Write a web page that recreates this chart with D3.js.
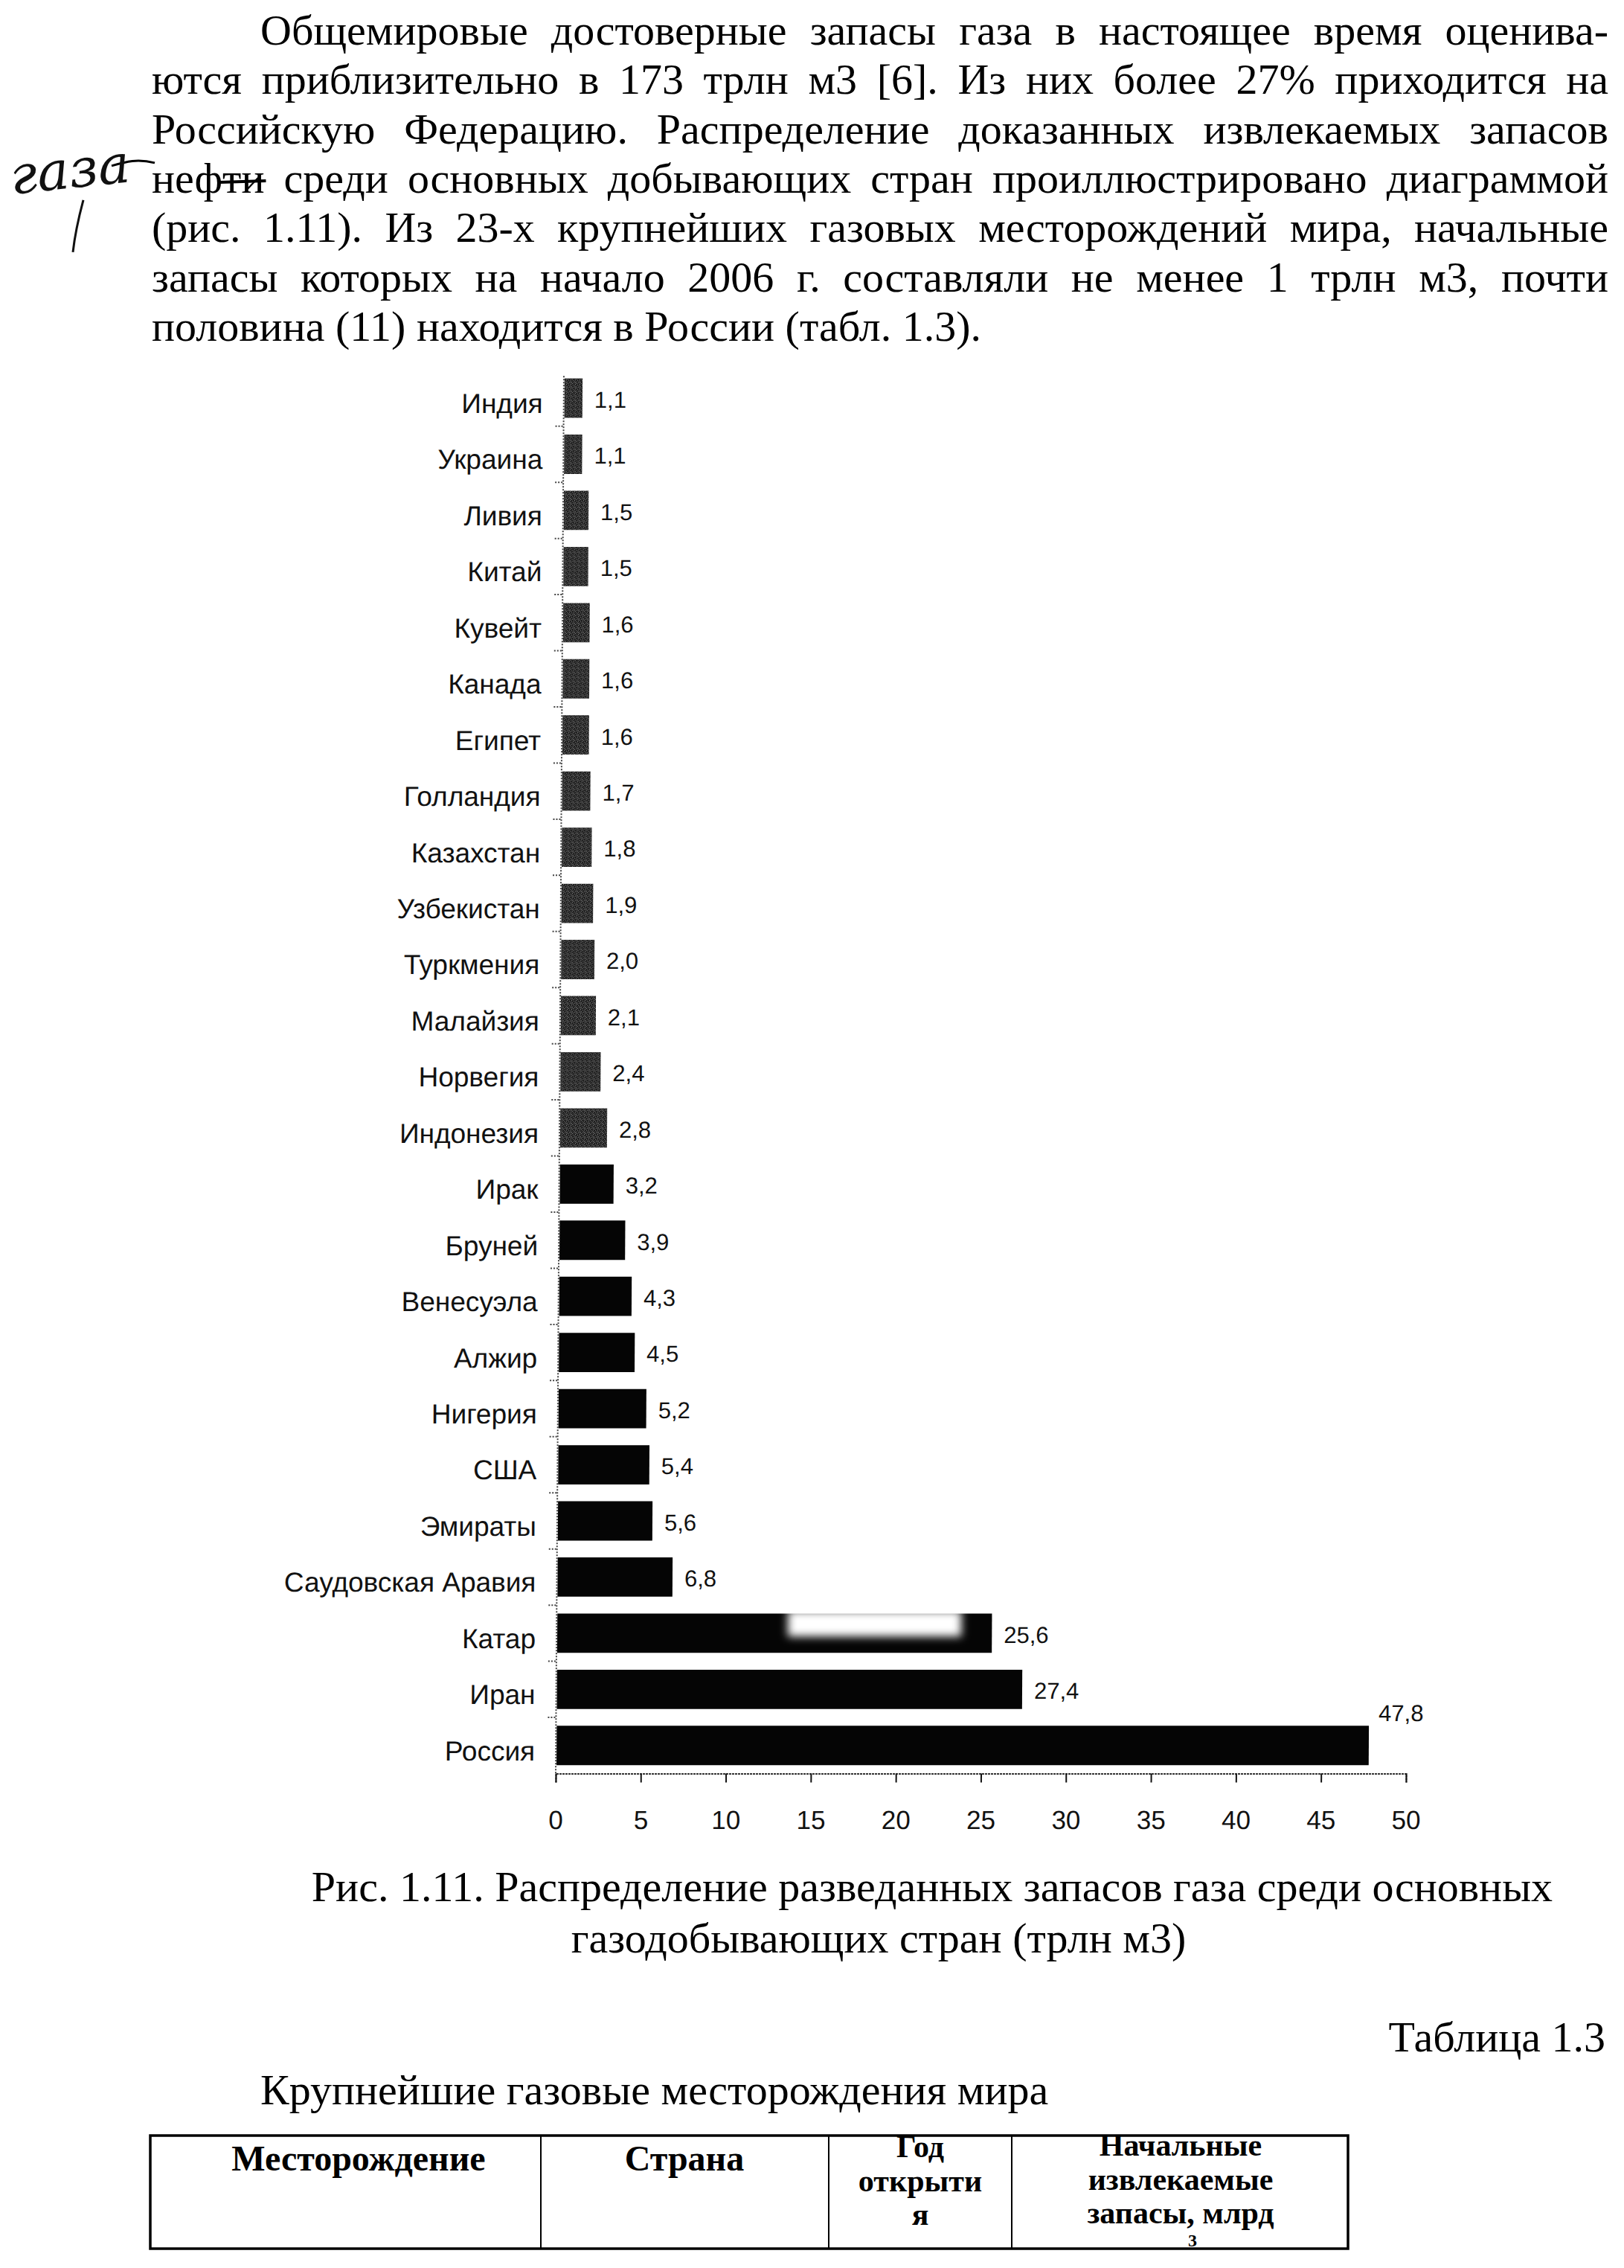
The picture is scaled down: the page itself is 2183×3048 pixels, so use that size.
<!DOCTYPE html>
<html><head><meta charset="utf-8">
<script src="https://cdn.jsdelivr.net/npm/d3@7"></script>
<style>body{margin:0;background:#fff}svg{display:block}</style>
</head><body>
<svg id="page" width="2183" height="3048" xmlns="http://www.w3.org/2000/svg"></svg>
<script>
// ---------- DATA ----------
const countries = ["Индия","Украина","Ливия","Китай","Кувейт","Канада","Египет","Голландия","Казахстан","Узбекистан","Туркмения","Малайзия","Норвегия","Индонезия","Ирак","Бруней","Венесуэла","Алжир","Нигерия","США","Эмираты","Саудовская Аравия","Катар","Иран","Россия"];
const reserves = [1.1,1.1,1.5,1.5,1.6,1.6,1.6,1.7,1.8,1.9,2.0,2.1,2.4,2.8,3.2,3.9,4.3,4.5,5.2,5.4,5.6,6.8,25.6,27.4,47.8];
const xTicks = [0,5,10,15,20,25,30,35,40,45,50];
const xDomain = [0,50];

const paragraphLines = [
  "Общемировые достоверные запасы газа в настоящее время оценива-",
  "ются приблизительно в 173 трлн м3 [6]. Из них более 27% приходится на",
  "Российскую Федерацию. Распределение доказанных извлекаемых запасов",
  "нефти среди основных добывающих стран проиллюстрировано диаграммой",
  "(рис. 1.11). Из 23-х крупнейших газовых месторождений мира, начальные",
  "запасы которых на начало 2006 г. составляли не менее 1 трлн м3, почти",
  "половина (11) находится в России (табл. 1.3)."
];
const handNote = "газа";
const captionLines = [
  "Рис. 1.11. Распределение разведанных запасов газа среди основных",
  "газодобывающих стран (трлн м3)"
];
const tableNumber = "Таблица 1.3";
const tableTitle = "Крупнейшие газовые месторождения мира";
const tableHeaders = [
  ["Месторождение"],
  ["Страна"],
  ["Год","открыти","я"],
  ["Начальные","извлекаемые","запасы, млрд"]
];
const unitSup = "3";

// ---------- SETUP ----------
const svg = d3.select("#page");
svg.append("rect").attr("width",2183).attr("height",3048).attr("fill","#fff");
const serif = "'Liberation Serif','Times New Roman',serif";
const sans = "'Liberation Sans',Arial,sans-serif";

const defs = svg.append("defs");
const pat = defs.append("pattern").attr("id","stip").attr("width",6).attr("height",6).attr("patternUnits","userSpaceOnUse");
pat.append("rect").attr("width",6).attr("height",6).attr("fill","#1e1e1e");
[[0,0],[3,1],[1,3],[4,4],[2,5],[5,2],[0,4]].forEach(([a,b])=>pat.append("rect").attr("x",a).attr("y",b).attr("width",1).attr("height",1).attr("fill","#909090"));
defs.append("filter").attr("id","soft").attr("x","-20%").attr("y","-50%").attr("width","140%").attr("height","200%")
  .append("feGaussianBlur").attr("stdDeviation",6);

// ---------- PARAGRAPH (justified) ----------
const textG = svg.append("g").attr("font-family",serif).attr("fill","#000");
const fsP = 58, left = 204, right = 2162, indent = 146, base0 = 60, lh = 66.3;
const measurer = textG.append("text").attr("font-size",fsP).attr("x",-9999).attr("y",-9999);
function wlen(t, fs){ measurer.attr("font-size",fs).text(t); return measurer.node().getComputedTextLength(); }
const wordPos = {};
paragraphLines.forEach((line,i)=>{
  const words = line.split(" ");
  const x0 = left + (i===0?indent:0);
  const y = base0 + i*lh;
  const widths = words.map(w=>wlen(w,fsP));
  const sum = d3.sum(widths);
  const last = i===paragraphLines.length-1;
  const gap = last ? fsP*0.25 : (right - x0 - sum)/(words.length-1);
  let x = x0;
  wordPos[i] = [];
  words.forEach((w,j)=>{
    textG.append("text").attr("x",x).attr("y",y).attr("font-size",fsP).text(w);
    wordPos[i].push({w,x,width:widths[j]});
    x += widths[j] + gap;
  });
});
// correction: "нефти" crossed out, handwritten note in margin
const nf = wordPos[3][0];
const nfStart = nf.x + wlen("неф",fsP);
const yL4 = base0 + 3*lh;
textG.append("line").attr("x1",nfStart-4).attr("x2",nf.x+nf.width+2).attr("y1",yL4-14).attr("y2",yL4-16).attr("stroke","#000").attr("stroke-width",4);
textG.append("path").attr("d",`M150,${yL4-36} C170,${yL4-42} 185,${yL4-46} ${nf.x+4},${yL4-40}`).attr("fill","none").attr("stroke","#000").attr("stroke-width",3);
textG.append("text").attr("transform",`translate(16,${yL4+2}) rotate(-6)`).attr("font-size",72).attr("font-style","italic").attr("font-family","'DejaVu Serif',serif").attr("fill","#111").text(handNote);
textG.append("path").attr("d",`M112,${yL4+10} C104,${yL4+40} 100,${yL4+62} 98,${yL4+80}`).attr("fill","none").attr("stroke","#111").attr("stroke-width",3);
measurer.remove();

// ---------- CHART ----------
const axisY = 2383.5;
const x = d3.scaleLinear().domain(xDomain).range([747, 1890]);
const y = d3.scaleBand().domain(countries).range([497.3, axisY]).paddingInner(0.3).paddingOuter(0.15);
const skew = -Math.atan(11/1886)*180/Math.PI;
const chart = svg.append("g").attr("transform",`translate(0,${axisY}) skewX(${skew}) translate(0,${-axisY})`);

const data = countries.map((c,i)=>({c, v:reserves[i], i}));
const fmt = v => d3.format(".1f")(v).replace(".",",");
const lastIdx = countries.length-1;

// bars
chart.append("g").selectAll("rect").data(data).join("rect")
  .attr("x", x(0)+1)
  .attr("y", d=>y(d.c))
  .attr("width", d=>x(d.v)-x(0)-1)
  .attr("height", y.bandwidth())
  .attr("fill", d=> d.v < 3 ? "url(#stip)" : "#050505");

// scan blotch on the Qatar bar
chart.append("rect")
  .attr("x", x(13.6)).attr("y", y("Катар")-4)
  .attr("width", x(23.8)-x(13.6)).attr("height", y.bandwidth()*0.66)
  .attr("fill","#fff").attr("filter","url(#soft)");

// y axis (dotted) with boundary ticks
const yTop = y.range()[0];
chart.append("line").attr("x1",x(0)).attr("x2",x(0)).attr("y1",yTop+8).attr("y2",axisY)
  .attr("stroke","#444").attr("stroke-width",2).attr("stroke-dasharray","2,2");
const boundaries = countries.slice(0,-1).map(c=> y(c)+y.bandwidth()+ y.step()*y.paddingInner()/2);
chart.append("g").selectAll("line").data(boundaries).join("line")
  .attr("x1",x(0)-11).attr("x2",x(0)).attr("y1",d=>d).attr("y2",d=>d)
  .attr("stroke","#444").attr("stroke-width",2).attr("stroke-dasharray","2,2");

// category labels
chart.append("g").selectAll("text").data(data).join("text")
  .attr("x", x(0)-28)
  .attr("y", d=>y(d.c)+y.bandwidth()/2+7)
  .attr("dy","0.35em")
  .attr("text-anchor","end")
  .attr("font-family",sans).attr("font-size",37).attr("fill","#111")
  .text(d=>d.c);

// value labels
chart.append("g").selectAll("text").data(data).join("text")
  .attr("x", d=> d.i===lastIdx ? x(d.v)+13 : x(d.v)+16)
  .attr("y", d=> d.i===lastIdx ? y(d.c)-6 : y(d.c)+y.bandwidth()/2+2)
  .attr("dy", d=> d.i===lastIdx ? "0" : "0.35em")
  .attr("font-family",sans).attr("font-size",31).attr("fill","#111")
  .text(d=>fmt(d.v));

// x axis
const xAxis = d3.axisBottom(x).tickValues(xTicks).tickSize(12).tickPadding(38).tickFormat(d3.format("d"));
const ax = chart.append("g").attr("transform",`translate(0,${axisY})`).call(xAxis);
ax.select(".domain").attr("stroke","#333").attr("stroke-width",2).attr("stroke-dasharray","3,1");
ax.selectAll(".tick line").attr("stroke","#111").attr("stroke-width",2);
ax.selectAll(".tick text").attr("font-family",sans).attr("font-size",35).attr("fill","#111");

// ---------- CAPTION ----------
const capG = svg.append("g").attr("font-family",serif).attr("font-size",58).attr("fill","#000").attr("text-anchor","middle");
capG.append("text").attr("x",1253).attr("y",2555).text(captionLines[0]);
capG.append("text").attr("x",1181).attr("y",2624).text(captionLines[1]);

// ---------- TABLE ----------
const tg = svg.append("g").attr("font-family",serif).attr("fill","#000");
tg.append("text").attr("x",2158).attr("y",2757).attr("text-anchor","end").attr("font-size",58).text(tableNumber);
tg.append("text").attr("x",350).attr("y",2828).attr("font-size",58).text(tableTitle);

const colX = [202, 727, 1114, 1360, 1812];
const tTop = 2870, tBot = 3022;
tg.append("rect").attr("x",colX[0]).attr("y",tTop).attr("width",colX[4]-colX[0]).attr("height",tBot-tTop)
  .attr("fill","none").attr("stroke","#000").attr("stroke-width",3.5);
colX.slice(1,-1).forEach(cx=> tg.append("line").attr("x1",cx).attr("x2",cx).attr("y1",tTop).attr("y2",tBot).attr("stroke","#000").attr("stroke-width",2));

const headBase = [[2917],[2917],[2899,2945,2990],[2897,2943,2988]];
const headCx = [482, 920, 1237, 1587];
const hg = tg.append("g").attr("font-weight","bold").attr("text-anchor","middle");
tableHeaders.forEach((lines,ci)=>{
  lines.forEach((t,li)=>{
    hg.append("text").attr("x",headCx[ci]).attr("y",headBase[ci][li])
      .attr("font-size", ci<2 ? 48 : 42).text(t);
  });
});
// superscript of the (cut-off) unit line "м³"
hg.append("text").attr("x",1603).attr("y",3019).attr("font-size",24).text(unitSup);
</script>
</body></html>
